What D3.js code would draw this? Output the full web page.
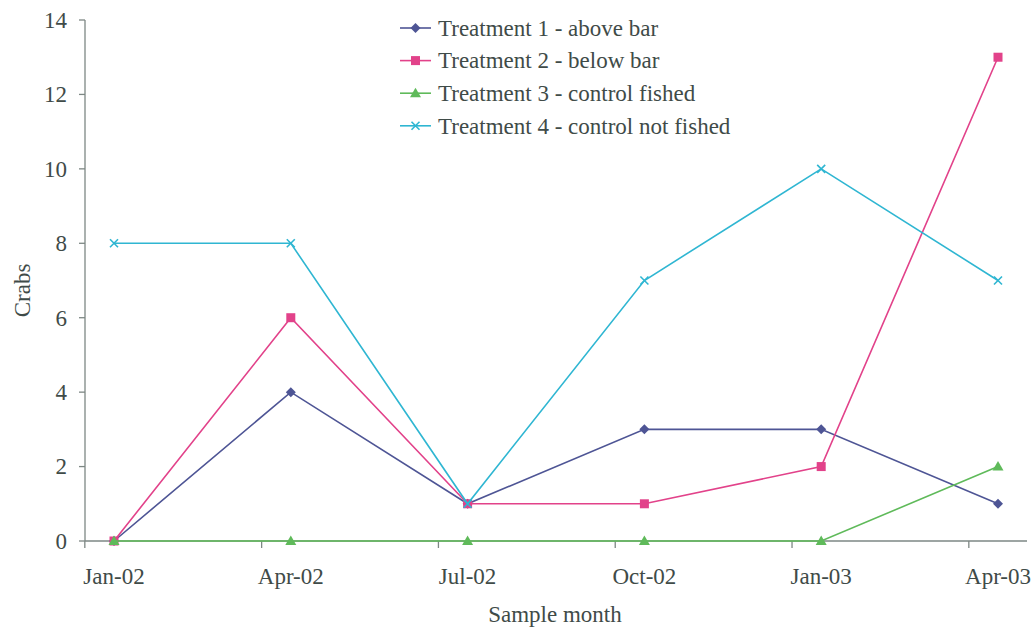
<!DOCTYPE html>
<html>
<head>
<meta charset="utf-8">
<script src="https://cdn.jsdelivr.net/npm/d3@7"></script>
<style>
  html, body { margin: 0; padding: 0; background: #ffffff; }
  svg { display: block; }
</style>
</head>
<body>
<svg id="chart" width="1034" height="630"></svg>
<script>
// Sample months and crab counts per treatment
const months = ["Jan-02", "Apr-02", "Jul-02", "Oct-02", "Jan-03", "Apr-03"];
const treatment1 = [0, 4, 1, 3, 3, 1];
const treatment2 = [0, 6, 1, 1, 2, 13];
const treatment3 = [0, 0, 0, 0, 0, 2];
const treatment4 = [8, 8, 1, 7, 10, 7];
const seriesNames = [
  "Treatment 1 - above bar",
  "Treatment 2 - below bar",
  "Treatment 3 - control fished",
  "Treatment 4 - control not fished"
];
const yTicks = [0, 2, 4, 6, 8, 10, 12, 14];

const colors = ["#4e5595", "#e2428a", "#5fba5a", "#2fb6d2"];
const symbols = ["diamond", "square", "triangle", "cross"];

const series = [treatment1, treatment2, treatment3, treatment4].map((values, i) => ({
  name: seriesNames[i], values, color: colors[i], symbol: symbols[i]
}));

const FONT = "'Liberation Serif', 'DejaVu Serif', serif";
const TEXT_COLOR = "#3f4b48";

const svg = d3.select("#chart");
const axisColor = "#7d8784";

const x = d3.scalePoint().domain(months).range([114, 998]);
const y = d3.scaleLinear().domain([0, 14]).range([541, 20]);
const tickShift = -x.step() * 0.165;
const axisLeft = 85, axisRight = 1027;

function label(sel) {
  return sel.attr("font-family", FONT)
    .attr("font-size", 23)
    .attr("fill", TEXT_COLOR);
}

// Y axis
const yAxis = svg.append("g");
yAxis.append("line")
  .attr("x1", axisLeft).attr("x2", axisLeft)
  .attr("y1", y(14)).attr("y2", y(0))
  .attr("stroke", axisColor).attr("stroke-width", 1.3);
yAxis.selectAll("line.tick").data(yTicks).join("line")
  .attr("class", "tick")
  .attr("x1", axisLeft - 6).attr("x2", axisLeft)
  .attr("y1", d => y(d)).attr("y2", d => y(d))
  .attr("stroke", axisColor).attr("stroke-width", 1.3);
yAxis.selectAll("text").data(yTicks).join("text")
  .attr("x", 67).attr("y", d => y(d))
  .attr("dy", "0.34em")
  .attr("text-anchor", "end")
  .call(label)
  .text(d => d);

// X axis
const xAxis = svg.append("g");
xAxis.append("line")
  .attr("x1", axisLeft).attr("x2", axisRight)
  .attr("y1", y(0)).attr("y2", y(0))
  .attr("stroke", axisColor).attr("stroke-width", 1.3);
xAxis.selectAll("line.tick").data(months).join("line")
  .attr("class", "tick")
  .attr("x1", d => x(d) + tickShift).attr("x2", d => x(d) + tickShift)
  .attr("y1", y(0)).attr("y2", y(0) + 7)
  .attr("stroke", axisColor).attr("stroke-width", 1.3);
xAxis.selectAll("text").data(months).join("text")
  .attr("x", d => x(d)).attr("y", 584)
  .attr("text-anchor", "middle")
  .call(label)
  .text(d => d);

// Axis titles
svg.append("text")
  .attr("transform", `translate(30,${(y(0) + y(14)) / 2 + 10}) rotate(-90)`)
  .attr("text-anchor", "middle")
  .call(label)
  .text("Crabs");
svg.append("text")
  .attr("x", 555).attr("y", 622)
  .attr("text-anchor", "middle")
  .call(label)
  .text("Sample month");

// Marker drawing
function drawMarker(g, kind, color) {
  if (kind === "diamond") {
    g.append("path").attr("d", "M0,-5L5,0L0,5L-5,0Z").attr("fill", color);
  } else if (kind === "square") {
    g.append("rect").attr("x", -4.5).attr("y", -4.5).attr("width", 9).attr("height", 9).attr("fill", color);
  } else if (kind === "triangle") {
    g.append("path").attr("d", "M0,-5.5L5.5,4L-5.5,4Z").attr("fill", color);
  } else {
    g.append("path").attr("d", "M-4,-4L4,4M-4,4L4,-4")
      .attr("stroke", color).attr("stroke-width", 1.6).attr("fill", "none");
  }
}

const line = d3.line()
  .x((d, i) => x(months[i]))
  .y(d => y(d));

// Lines and markers, drawn in series order
series.forEach(s => {
  const g = svg.append("g");
  g.append("path")
    .attr("d", line(s.values))
    .attr("fill", "none")
    .attr("stroke", s.color)
    .attr("stroke-width", 1.6);
  s.values.forEach((v, i) => {
    const m = g.append("g").attr("transform", `translate(${x(months[i])},${y(v)})`);
    drawMarker(m, s.symbol, s.color);
  });
});

// Legend
const legend = svg.append("g");
series.forEach((s, i) => {
  const cy = 28 + i * 32.6;
  const row = legend.append("g");
  row.append("line")
    .attr("x1", 400).attr("x2", 431)
    .attr("y1", cy).attr("y2", cy)
    .attr("stroke", s.color).attr("stroke-width", 1.6);
  const m = row.append("g").attr("transform", `translate(415.5,${cy})`);
  drawMarker(m, s.symbol, s.color);
  row.append("text")
    .attr("x", 438).attr("y", cy)
    .attr("dy", "0.34em")
    .call(label)
    .text(s.name);
});
</script>
</body>
</html>
